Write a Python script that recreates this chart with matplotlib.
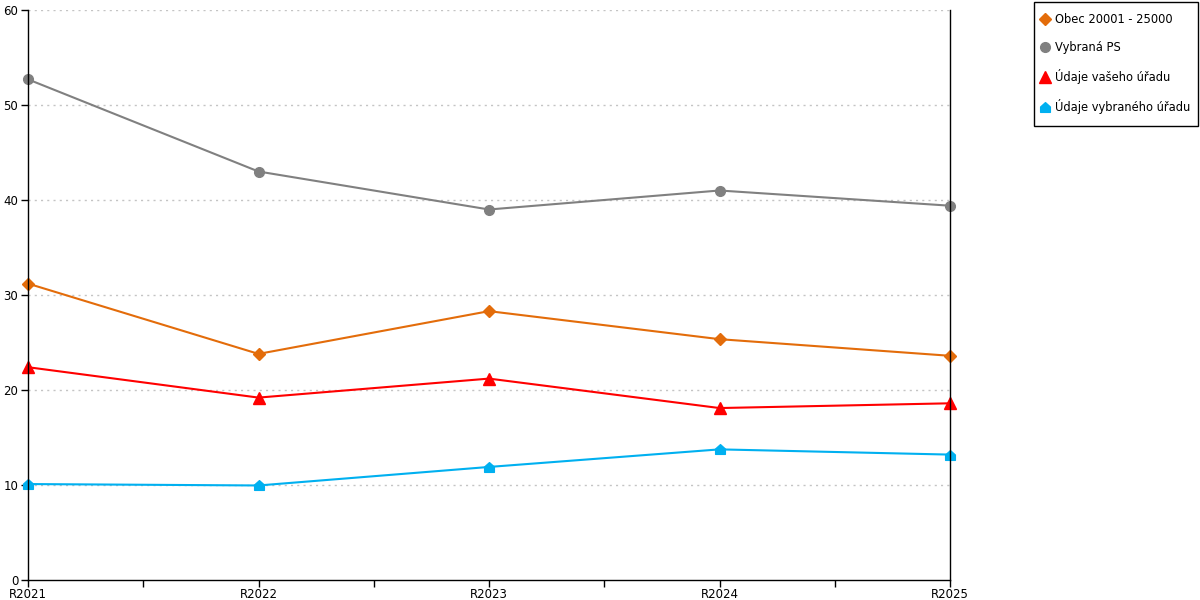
import matplotlib
matplotlib.use("Agg")
import matplotlib.pyplot as plt
from matplotlib.path import Path
from matplotlib.lines import Line2D
from matplotlib.patches import Rectangle
from matplotlib.ticker import FixedLocator

categories = ["R2021", "R2022", "R2023", "R2024", "R2025"]
obec = [31.2, 23.8, 28.3, 25.35, 23.6]
vybrana_ps = [52.7, 43.0, 39.0, 41.0, 39.4]
vas_urad = [22.4, 19.2, 21.2, 18.1, 18.6]
vybrany_urad = [10.1, 9.95, 11.9, 13.75, 13.2]
yticks = [0, 10, 20, 30, 40, 50, 60]

house = Path([(-1, -1), (1, -1), (1, 0.1), (0, 1), (-1, 0.1), (-1, -1)],
             [Path.MOVETO, Path.LINETO, Path.LINETO, Path.LINETO, Path.LINETO, Path.CLOSEPOLY])

plt.rcParams['font.family'] = ['DejaVu Sans']
fig = plt.figure(figsize=(12, 6), dpi=100)
ax = fig.add_axes([28/1200, 1 - 580/600, (950-28)/1200, 570/600])

x = list(range(len(categories)))
series = [
    ("Obec 20001 - 25000", obec, "#E36C0A", "D", 6),
    ("Vybraná PS", vybrana_ps, "#808080", "o", 7),
    ("Údaje vašeho úřadu", vas_urad, "#FF0000", "^", 8),
    ("Údaje vybraného úřadu", vybrany_urad, "#00B0F0", house, 7),
]
handles = []
for name, vals, col, mk, ms in series:
    ax.plot(x, vals, color=col, lw=1.5, marker=mk, ms=ms, mec=col, mfc=col,
            clip_on=False, zorder=3)
    handles.append(Line2D([], [], color=col, marker=mk, ms=ms, ls='none', label=name))

ax.set_xlim(0, len(categories) - 1)
ax.set_ylim(0, 60)
ax.set_yticks(yticks)
ax.set_xticks(x)
ax.set_xticklabels(categories)
ax.xaxis.set_minor_locator(FixedLocator([i + 0.5 for i in x[:-1]]))
ax.tick_params(axis='both', which='both', direction='out', length=5, width=1,
               labelsize=8.5, colors='black', pad=2)
ax.tick_params(axis='x', which='major', pad=1)
for yv in yticks[1:]:
    ax.axhline(yv, color='#C4C4C4', lw=1, ls=(0, (1.5, 3)), zorder=1)
ax.spines['top'].set_visible(False)
for s in ['left', 'bottom', 'right']:
    ax.spines[s].set_color('black')
    ax.spines[s].set_linewidth(1)
    ax.spines[s].set_zorder(5)

# legend frame
fig.patches.append(Rectangle((1034/1200, 1 - 126/600), 164/1200, 124/600,
                             transform=fig.transFigure, facecolor='white',
                             edgecolor='black', lw=1, zorder=0))
leg = fig.legend(handles=handles, loc='upper left', bbox_to_anchor=(1040/1200, 1 - 13/600),
                 frameon=False, fontsize=8.3,
                 handlelength=0.8, handletextpad=0.5, labelspacing=1.3,
                 borderpad=0, borderaxespad=0)

fig.savefig("out.png", dpi=100, facecolor='white')
